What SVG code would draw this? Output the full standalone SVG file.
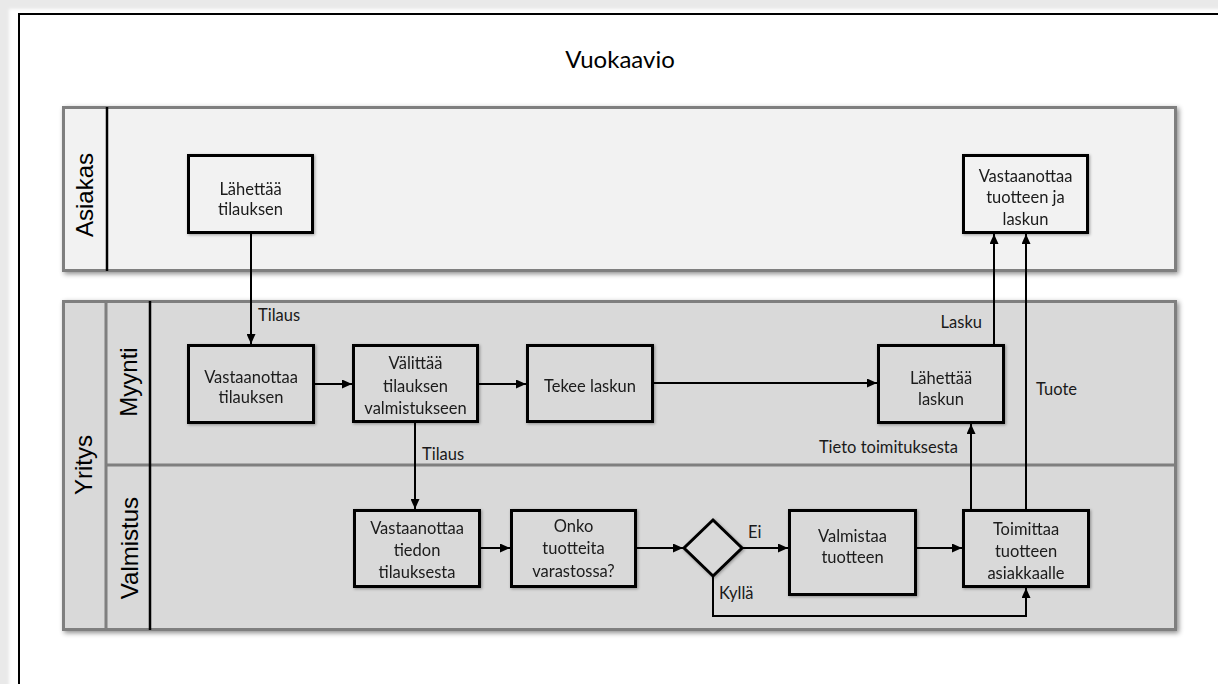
<svg xmlns="http://www.w3.org/2000/svg" width="1218" height="684" viewBox="0 0 1218 684">
  <defs>
    <style>
      .pool { stroke: #7f7f7f; stroke-width: 3; }
      .sep { stroke: #7f7f7f; stroke-width: 3; }
      .hdr { stroke: #000; stroke-width: 2.5; }
      .box { stroke: #000; stroke-width: 3; }
      .lane-title { font-family: "Liberation Sans", Arial, sans-serif; font-size: 24px; fill: #000; text-anchor: middle; }
      .t { font-family: Lato, "Open Sans", sans-serif; font-size: 16.5px; fill: #1a1a1a; text-anchor: middle; }
      .lbl { font-family: Lato, "Open Sans", sans-serif; font-size: 16.5px; fill: #1a1a1a; }
      .title { font-family: Lato, "Open Sans", sans-serif; font-size: 24px; fill: #000; text-anchor: middle; }
      .edge { fill: none; stroke: #000; stroke-width: 2; }
    </style>
    <filter id="poolShadow" x="-5%" y="-10%" width="110%" height="125%">
      <feDropShadow dx="2" dy="2" stdDeviation="2.5" flood-color="#000" flood-opacity="0.45"/>
    </filter>
    <filter id="boxShadow" x="-10%" y="-10%" width="125%" height="130%">
      <feDropShadow dx="1" dy="1" stdDeviation="1.5" flood-color="#000" flood-opacity="0.35"/>
    </filter>
    <filter id="soft" x="-2%" y="-2%" width="104%" height="104%">
      <feGaussianBlur stdDeviation="1.5"/>
    </filter>
    <marker id="arrow" markerUnits="userSpaceOnUse" markerWidth="10" markerHeight="9" refX="10" refY="4.5" orient="auto">
      <path d="M0,0 L10,4.5 L0,9 z" fill="#000"/>
    </marker>
  </defs>

  <!-- page background and frame -->
  <rect x="0" y="0" width="1218" height="684" fill="#e9e9e9"/>
  <rect x="9" y="9" width="1260" height="720" fill="#fff" filter="url(#soft)"/>
  <path d="M19,684 V14 H1218" fill="none" stroke="#000" stroke-width="2"/>

  <text class="title" x="620" y="68">Vuokaavio</text>

  <!-- pool: Asiakas -->
  <g id="pool-asiakas">
    <rect class="pool" x="63.5" y="107.5" width="1112" height="163" fill="#f2f2f2" filter="url(#poolShadow)"/>
    <line class="hdr" x1="107" y1="107" x2="107" y2="271"/>
    <text class="lane-title" transform="translate(93,195) rotate(-90)">Asiakas</text>
  </g>

  <!-- pool: Yritys with lanes Myynti and Valmistus -->
  <g id="pool-yritys">
    <rect class="pool" x="63.5" y="301.5" width="1112" height="328" fill="#d9d9d9" filter="url(#poolShadow)"/>
    <line class="sep" x1="106" y1="301" x2="106" y2="630"/>
    <line class="sep" x1="106" y1="465" x2="1176" y2="465"/>
    <line class="hdr" x1="150" y1="301" x2="150" y2="630"/>
    <text class="lane-title" transform="translate(92,465) rotate(-90)">Yritys</text>
    <text class="lane-title" transform="translate(137,382) rotate(-90)">Myynti</text>
    <text class="lane-title" transform="translate(138,548) rotate(-90)">Valmistus</text>
  </g>

  <!-- connectors -->
  <g id="connectors">
    <path class="edge" d="M251,234 V344" marker-end="url(#arrow)"/>
    <text class="lbl" x="258" y="321">Tilaus</text>
    <path class="edge" d="M315,384 H352" marker-end="url(#arrow)"/>
    <path class="edge" d="M479,384 H526" marker-end="url(#arrow)"/>
    <path class="edge" d="M654,383 H877" marker-end="url(#arrow)"/>
    <path class="edge" d="M415,423 V509" marker-end="url(#arrow)"/>
    <text class="lbl" x="422" y="460">Tilaus</text>
    <path class="edge" d="M481,548 H510" marker-end="url(#arrow)"/>
    <path class="edge" d="M637,548 H683" marker-end="url(#arrow)"/>
    <path class="edge" d="M743,548 H788" marker-end="url(#arrow)"/>
    <text class="lbl" x="748" y="538">Ei</text>
    <path class="edge" d="M912,548 H962" marker-end="url(#arrow)"/>
    <path class="edge" d="M713,577 V616 H1026 V588" marker-end="url(#arrow)"/>
    <text class="lbl" x="719" y="599">Kyllä</text>
    <path class="edge" d="M971,509 V424" marker-end="url(#arrow)"/>
    <text class="lbl" x="958" y="453" text-anchor="end">Tieto toimituksesta</text>
    <path class="edge" d="M994,344 V234" marker-end="url(#arrow)"/>
    <text class="lbl" x="982" y="328" text-anchor="end">Lasku</text>
    <path class="edge" d="M1026,509 V234" marker-end="url(#arrow)"/>
    <text class="lbl" x="1036" y="395">Tuote</text>
  </g>

  <!-- process nodes -->
  <g id="n-lahettaa-tilauksen" filter="url(#boxShadow)">
    <rect class="box" x="188.5" y="155.5" width="124" height="77" fill="#f2f2f2"/>
    <text class="t" x="250.5" y="195">Lähettää</text>
    <text class="t" x="250.5" y="215">tilauksen</text>
  </g>

  <g id="n-vastaanottaa-tuotteen" filter="url(#boxShadow)">
    <rect class="box" x="963.5" y="155.5" width="124" height="77" fill="#f2f2f2"/>
    <text class="t" x="1025.5" y="182">Vastaanottaa</text>
    <text class="t" x="1025.5" y="203">tuotteen ja</text>
    <text class="t" x="1025.5" y="225">laskun</text>
  </g>

  <g id="n-vastaanottaa-tilauksen" filter="url(#boxShadow)">
    <rect class="box" x="188.5" y="345.5" width="125" height="77" fill="#d9d9d9"/>
    <text class="t" x="251" y="383">Vastaanottaa</text>
    <text class="t" x="251" y="403">tilauksen</text>
  </g>

  <g id="n-valittaa" filter="url(#boxShadow)">
    <rect class="box" x="353.5" y="345.5" width="124" height="76" fill="#d9d9d9"/>
    <text class="t" x="415.5" y="369">Välittää</text>
    <text class="t" x="415.5" y="392">tilauksen</text>
    <text class="t" x="415.5" y="414">valmistukseen</text>
  </g>

  <g id="n-tekee-laskun" filter="url(#boxShadow)">
    <rect class="box" x="527.5" y="345.5" width="125" height="76" fill="#d9d9d9"/>
    <text class="t" x="590" y="392">Tekee laskun</text>
  </g>

  <g id="n-lahettaa-laskun" filter="url(#boxShadow)">
    <rect class="box" x="878.5" y="345.5" width="125" height="77" fill="#d9d9d9"/>
    <text class="t" x="941" y="384">Lähettää</text>
    <text class="t" x="941" y="405">laskun</text>
  </g>

  <g id="n-vastaanottaa-tiedon" filter="url(#boxShadow)">
    <rect class="box" x="354.5" y="510.5" width="125" height="76" fill="#d9d9d9"/>
    <text class="t" x="417" y="534">Vastaanottaa</text>
    <text class="t" x="417" y="556">tiedon</text>
    <text class="t" x="417" y="578">tilauksesta</text>
  </g>

  <g id="n-onko" filter="url(#boxShadow)">
    <rect class="box" x="511.5" y="510.5" width="124" height="76" fill="#d9d9d9"/>
    <text class="t" x="573.5" y="532">Onko</text>
    <text class="t" x="573.5" y="554">tuotteita</text>
    <text class="t" x="573.5" y="577">varastossa?</text>
  </g>

  <g id="n-paatos" filter="url(#boxShadow)">
    <path class="box" d="M713,520 L742,548 L713,576 L684,548 z" fill="#d9d9d9"/>
  </g>

  <g id="n-valmistaa" filter="url(#boxShadow)">
    <rect class="box" x="789.5" y="510.5" width="126" height="84" fill="#d9d9d9"/>
    <text class="t" x="852.5" y="542">Valmistaa</text>
    <text class="t" x="852.5" y="563">tuotteen</text>
  </g>

  <g id="n-toimittaa" filter="url(#boxShadow)">
    <rect class="box" x="963.5" y="510.5" width="125" height="76" fill="#d9d9d9"/>
    <text class="t" x="1026" y="535">Toimittaa</text>
    <text class="t" x="1026" y="557">tuotteen</text>
    <text class="t" x="1026" y="579">asiakkaalle</text>
  </g>
</svg>
